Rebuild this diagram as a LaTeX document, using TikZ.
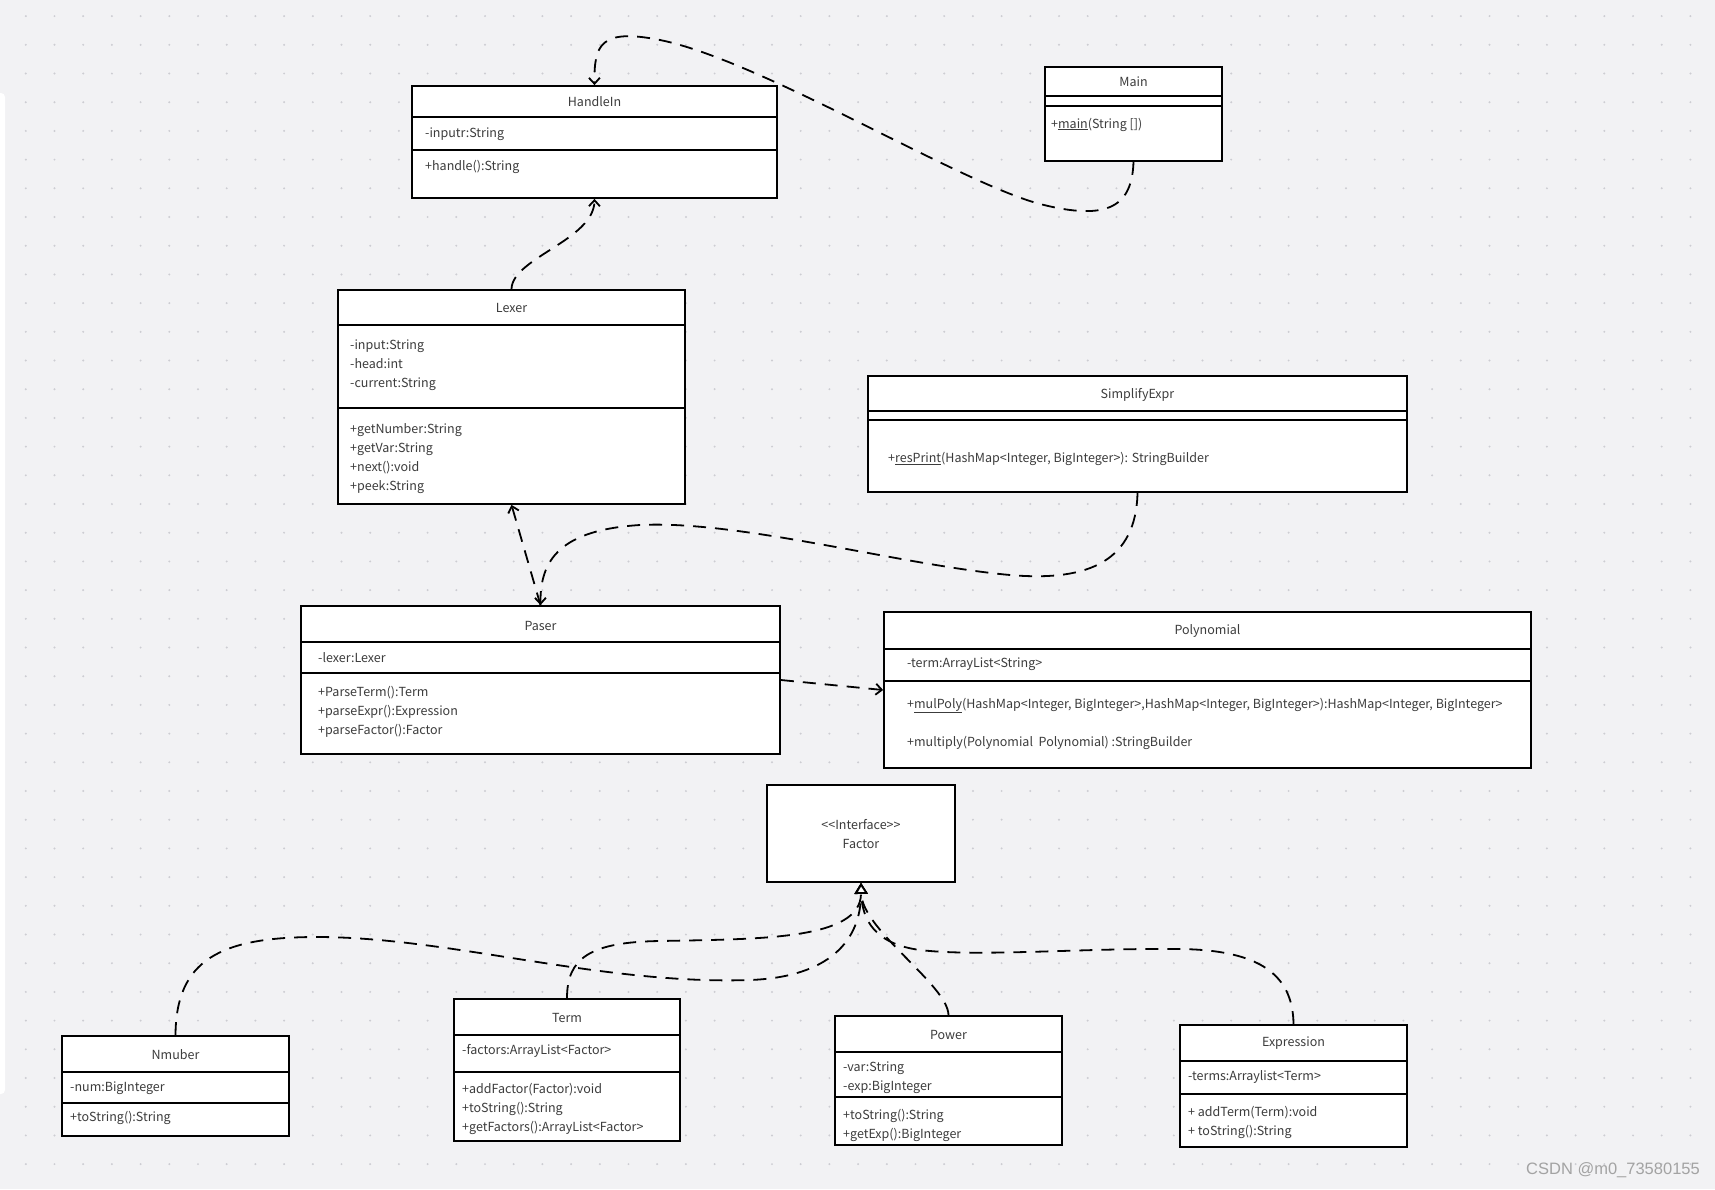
\documentclass[tikz,border=0pt]{standalone}
\usepackage{fontspec}
\newfontfamily\umlfont{Noto Sans CJK SC}
\newfontfamily\markfont{Liberation Sans}
\usetikzlibrary{arrows.meta}
\definecolor{canvas}{HTML}{F2F2F4}
\definecolor{griddot}{HTML}{CDCDD2}
\definecolor{ink}{HTML}{3C3C3C}
\definecolor{markgray}{HTML}{A3A3A3}

\begin{document}
\begin{tikzpicture}[
  x=1pt, y=-1pt,
  font=\umlfont\fontsize{12.5}{19}\selectfont,
  cls/.style={draw, line width=1.8pt, fill=white, inner sep=0pt},
  divider/.style={line width=1.8pt},
  clsname/.style={inner sep=0pt, text=ink, yshift=-1pt},
  member/.style={inner sep=0pt, anchor=west, align=left, text=ink, yshift=-2pt},
  dep/.style={line width=1.8pt, dash pattern=on 13pt off 9pt, -{Straight Barb[length=6pt, width=11pt]}},
  impl/.style={line width=1.8pt, dash pattern=on 13pt off 9pt, -{Triangle[open, fill=white, length=11pt, width=13pt]}}
]
\useasboundingbox (0,0) rectangle (1715,1189);
\fill[canvas] (0,0) rectangle (1715,1189);
\fill[white, rounded corners=4pt] (-10,93) rectangle (5,1094);
\foreach \i in {0,...,59}
  \foreach \j in {0,...,41}
    \fill[griddot] (25.8+28.7*\i, 16.1+28.7*\j) circle (1.1pt);

% classes
\node[cls, minimum width=365pt, minimum height=112pt] (handlein) at (594.5,142) {};
\draw[divider] (handlein.west |- 0,117) -- (handlein.east |- 0,117);
\draw[divider] (handlein.west |- 0,150) -- (handlein.east |- 0,150);
\node[clsname] (handlein-name) at (594.5,101) {HandleIn};
\node[member] (handlein-attr) at (425,132) {-inputr:String};
\node[member] (handlein-ops) at (425,165) {+handle():String};

\node[cls, minimum width=177pt, minimum height=94pt] (main) at (1133.5,114) {};
\draw[divider] (main.west |- 0,96) -- (main.east |- 0,96);
\draw[divider] (main.west |- 0,106) -- (main.east |- 0,106);
\node[clsname] (main-name) at (1133.5,81) {Main};
\node[member] (main-ops) at (1051,122.5) {+\underline{main}(String [])};

\node[cls, minimum width=347pt, minimum height=214pt] (lexer) at (511.5,397) {};
\draw[divider] (lexer.west |- 0,325) -- (lexer.east |- 0,325);
\draw[divider] (lexer.west |- 0,408) -- (lexer.east |- 0,408);
\node[clsname] (lexer-name) at (511.5,307) {Lexer};
\node[member] (lexer-attr) at (350,363.5) {-input:String\\-head:int\\-current:String};
\node[member] (lexer-ops) at (350,456.5) {+getNumber:String\\+getVar:String\\+next():void\\+peek:String};

\node[cls, minimum width=539pt, minimum height=116pt] (simplify) at (1137.5,434) {};
\draw[divider] (simplify.west |- 0,411) -- (simplify.east |- 0,411);
\draw[divider] (simplify.west |- 0,420) -- (simplify.east |- 0,420);
\node[clsname] (simplify-name) at (1137.5,394) {SimplifyExpr};
\node[member] (simplify-ops) at (888,457) {+\underline{resPrint}(HashMap<Integer, BigInteger>): StringBuilder};

\node[cls, minimum width=479pt, minimum height=148pt] (paser) at (540.5,680) {};
\draw[divider] (paser.west |- 0,642) -- (paser.east |- 0,642);
\draw[divider] (paser.west |- 0,673) -- (paser.east |- 0,673);
\node[clsname] (paser-name) at (540.5,624.5) {Paser};
\node[member] (paser-attr) at (318,656) {-lexer:Lexer};
\node[member] (paser-ops) at (318,710) {+ParseTerm():Term\\+parseExpr():Expression\\+parseFactor():Factor};

\node[cls, minimum width=647pt, minimum height=156pt] (poly) at (1207.5,690) {};
\draw[divider] (poly.west |- 0,649) -- (poly.east |- 0,649);
\draw[divider] (poly.west |- 0,681) -- (poly.east |- 0,681);
\node[clsname] (poly-name) at (1207.5,630) {Polynomial};
\node[member] (poly-attr) at (907,662) {-term:ArrayList<String>};
\node[member] (poly-mul) at (907,703.5) {+\underline{mulPoly}(HashMap<Integer, BigInteger>,HashMap<Integer, BigInteger>):HashMap<Integer, BigInteger>};
\node[member] (poly-multiply) at (907,740.5) {+multiply(Polynomial~\ Polynomial) :StringBuilder};

\node[cls, minimum width=188pt, minimum height=97pt] (factor) at (861,833.5) {};
\node[clsname, align=center] (factor-name) at (861,833.5) {<<Interface>>\\Factor};

\node[cls, minimum width=227pt, minimum height=100pt] (nmuber) at (175.5,1086) {};
\draw[divider] (nmuber.west |- 0,1072) -- (nmuber.east |- 0,1072);
\draw[divider] (nmuber.west |- 0,1103) -- (nmuber.east |- 0,1103);
\node[clsname] (nmuber-name) at (175.5,1053.5) {Nmuber};
\node[member] (nmuber-attr) at (70,1086) {-num:BigInteger};
\node[member] (nmuber-ops) at (70,1116) {+toString():String};

\node[cls, minimum width=226pt, minimum height=142pt] (term) at (567,1070) {};
\draw[divider] (term.west |- 0,1035) -- (term.east |- 0,1035);
\draw[divider] (term.west |- 0,1072) -- (term.east |- 0,1072);
\node[clsname] (term-name) at (567,1016.5) {Term};
\node[member] (term-attr) at (462,1049) {-factors:ArrayList<Factor>};
\node[member] (term-ops) at (462,1107) {+addFactor(Factor):void\\+toString():String\\+getFactors():ArrayList<Factor>};

\node[cls, minimum width=227pt, minimum height=129pt] (power) at (948.5,1080.5) {};
\draw[divider] (power.west |- 0,1052) -- (power.east |- 0,1052);
\draw[divider] (power.west |- 0,1097) -- (power.east |- 0,1097);
\node[clsname] (power-name) at (948.5,1034) {Power};
\node[member] (power-attr) at (843,1076) {-var:String\\-exp:BigInteger};
\node[member] (power-ops) at (843,1123) {+toString():String\\+getExp():BigInteger};

\node[cls, minimum width=227pt, minimum height=122pt] (expr) at (1293.5,1086) {};
\draw[divider] (expr.west |- 0,1061) -- (expr.east |- 0,1061);
\draw[divider] (expr.west |- 0,1094) -- (expr.east |- 0,1094);
\node[clsname] (expr-name) at (1293.5,1042.5) {Expression};
\node[member] (expr-attr) at (1188,1075) {-terms:Arraylist<Term>};
\node[member] (expr-ops) at (1188,1120) {+ addTerm(Term):void\\+ toString():String};

% dependencies
\draw[dep] (main.south) .. controls (1132,205) and (1110,222) .. (1040,204)
  .. controls (960,183) and (760,60) .. (660,40)
  .. controls (600,28) and (594,45) .. (handlein.north);
\draw[dep] (lexer.north) .. controls (512,258) and (594,240) .. (handlein.south);
\draw[dep] (paser.north) -- (lexer.south);
\draw[dep] (simplify.south) .. controls (1136,560) and (1090,582) .. (1010,575)
  .. controls (900,565) and (740,520) .. (640,525)
  .. controls (560,530) and (540,560) .. (paser.north);
\draw[dep] (paser.east) -- (poly.west);

% realisations of Factor
\draw[impl] (nmuber.north) .. controls (176,960) and (220,937) .. (317,937)
  .. controls (450,937) and (600,985) .. (750,980)
  .. controls (830,977) and (861,940) .. (factor.south);
\draw[impl] (term.north) .. controls (567,958) and (590,942) .. (660,941)
  .. controls (760,939) and (861,940) .. (factor.south);
\draw[impl] (power.north) .. controls (948,985) and (862,930) .. (factor.south);
\draw[impl] (expr.north) .. controls (1293,975) and (1260,950) .. (1180,949)
  .. controls (1080,948) and (980,957) .. (920,950)
  .. controls (875,944) and (862,920) .. (factor.south);

\node[font=\markfont\fontsize{16.5}{18}\selectfont, text=markgray, inner sep=0pt] (mark) at (1613,1170) {CSDN @m0\_73580155};
\end{tikzpicture}
\end{document}
